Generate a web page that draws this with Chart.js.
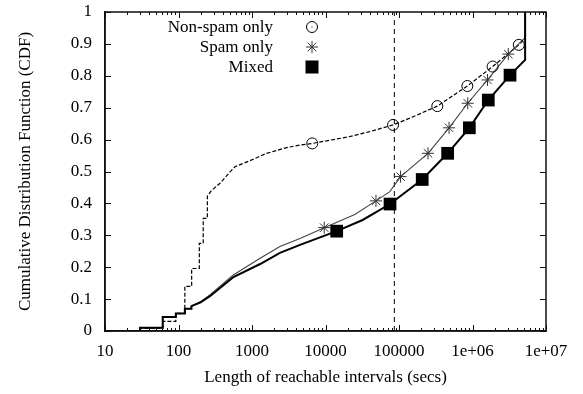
<!DOCTYPE html>
<html>
<head>
<meta charset="utf-8">
<script src="https://cdn.jsdelivr.net/npm/chart.js@4.4.0/dist/chart.umd.min.js"></script>
<style>
  html, body { margin: 0; padding: 0; background: #fff; }
  #wrap { width: 583px; height: 394px; }
</style>
</head>
<body>
<div id="wrap"><canvas id="cdfChart" width="583" height="394"></canvas></div>
<script>
// CDF of reachable interval lengths
const nonSpamX = [10, 30, 30, 61, 61, 92, 92, 122, 122, 151, 151, 192, 192, 217, 217, 247, 247, 283, 367, 503, 587, 940, 1285, 1585, 2966, 4500, 6600, 20000, 40000, 83000, 150000, 332000, 851000, 1880000, 4270000, 5200000, 5200000];
const nonSpamY = [0, 0, 0.008, 0.008, 0.03, 0.03, 0.055, 0.055, 0.14, 0.14, 0.196, 0.196, 0.275, 0.275, 0.353, 0.353, 0.423, 0.441, 0.463, 0.499, 0.515, 0.534, 0.548, 0.557, 0.575, 0.583, 0.588, 0.608, 0.625, 0.646, 0.67, 0.705, 0.768, 0.829, 0.897, 0.918, 1.0];

const spamX = [10, 30, 30, 61, 61, 92, 92, 122, 122, 150, 150, 200, 270, 550, 1290, 2400, 4500, 9600, 25000, 48600, 75000, 105000, 248000, 480000, 861000, 1600000, 3070000, 5200000, 5200000];
const spamY = [0, 0, 0.01, 0.01, 0.044, 0.044, 0.055, 0.055, 0.07, 0.07, 0.078, 0.092, 0.114, 0.175, 0.228, 0.265, 0.29, 0.324, 0.365, 0.408, 0.437, 0.484, 0.557, 0.637, 0.714, 0.787, 0.868, 0.92, 1.0];

const mixedX = [10, 30, 30, 61, 61, 92, 92, 122, 122, 150, 150, 200, 270, 550, 1290, 2400, 4500, 14200, 32000, 75500, 207000, 459000, 906000, 1640000, 3240000, 5200000, 5200000];
const mixedY = [0, 0, 0.01, 0.01, 0.044, 0.044, 0.055, 0.055, 0.07, 0.07, 0.078, 0.09, 0.11, 0.168, 0.21, 0.245, 0.27, 0.313, 0.348, 0.398, 0.475, 0.557, 0.637, 0.724, 0.802, 0.85, 1.0];

// sample points that carry the markers
const nonSpamMarkX = [6600, 83000, 332000, 851000, 1880000, 4270000];
const nonSpamMarkY = [0.588, 0.646, 0.705, 0.768, 0.829, 0.897];
const spamMarkX = [9600, 48600, 105000, 248000, 480000, 861000, 1600000, 3070000];
const spamMarkY = [0.324, 0.408, 0.484, 0.557, 0.637, 0.714, 0.787, 0.868];
const mixedMarkX = [14200, 75500, 207000, 459000, 906000, 1640000, 3240000];
const mixedMarkY = [0.313, 0.398, 0.475, 0.557, 0.637, 0.724, 0.802];

const dayMark = 86400; // one day, dashed reference line

const xTickValues = [10, 100, 1000, 10000, 100000, 1000000, 10000000];
const xTickLabels = ['10', '100', '1000', '10000', '100000', '1e+06', '1e+07'];
const yTickValues = [0, 0.1, 0.2, 0.3, 0.4, 0.5, 0.6, 0.7, 0.8, 0.9, 1];
const yTickLabels = ['0', '0.1', '0.2', '0.3', '0.4', '0.5', '0.6', '0.7', '0.8', '0.9', '1'];

const seriesNames = ['Non-spam only', 'Spam only', 'Mixed'];

const FONT = "'Liberation Serif', 'Times New Roman', serif";
Chart.defaults.color = '#000';
Chart.defaults.font.family = FONT;
Chart.defaults.font.size = 17;

const toPts = (xs, ys) => xs.map((v, i) => ({ x: v, y: ys[i] }));

// gnuplot-like frame with inward ticks on all four sides, plus the key
const frameAndKey = {
    id: 'frameAndKey',
    afterDraw(chart) {
        const c = chart.ctx;
        const a = chart.chartArea;
        const xs = chart.scales.x, ys = chart.scales.y;
        const L = a.left, T = a.top, R = a.right, B = a.bottom;
        c.save();
        c.setLineDash([]);
        c.strokeStyle = '#111';
        c.lineWidth = 1.5;
        c.beginPath();
        c.moveTo(L, T); c.lineTo(R, T); c.lineTo(R, B); c.lineTo(L, B); c.closePath();
        c.stroke();
        c.lineWidth = 1;
        c.beginPath();
        // x ticks, major and minor, bottom and top
        for (let k = 1; k <= 7; k++) {
            for (let m = 1; m <= 9; m++) {
                const v = m * Math.pow(10, k);
                if (v > 1e7) break;
                const px = Math.round(xs.getPixelForValue(v)) + 0.5;
                const len = m === 1 ? 6 : 3;
                c.moveTo(px, B); c.lineTo(px, B - len);
                c.moveTo(px, T); c.lineTo(px, T + len);
            }
        }
        // y ticks, left and right
        yTickValues.forEach(v => {
            const py = Math.round(ys.getPixelForValue(v)) + 0.5;
            c.moveTo(L, py); c.lineTo(L + 6, py);
            c.moveTo(R, py); c.lineTo(R - 6, py);
        });
        c.stroke();

        // key: right-aligned text, then the marker
        const textRight = 273, markX = 312;
        const rows = [27, 47, 67];
        c.fillStyle = '#000';
        c.font = '17px ' + FONT;
        c.textAlign = 'right';
        c.textBaseline = 'middle';
        seriesNames.forEach((name, i) => c.fillText(name, textRight, rows[i] + 1));
        c.strokeStyle = '#000';
        c.beginPath();
        c.arc(markX, rows[0], 5.5, 0, Math.PI * 2);
        c.stroke();
        c.fillRect(markX - 0.5, rows[0] - 0.5, 1, 1);
        c.strokeStyle = '#333';
        c.beginPath();
        for (let i = 0; i < 4; i++) {
            const ang = i * Math.PI / 4;
            c.moveTo(markX - 6 * Math.cos(ang), rows[1] - 6 * Math.sin(ang));
            c.lineTo(markX + 6 * Math.cos(ang), rows[1] + 6 * Math.sin(ang));
        }
        c.stroke();
        c.fillRect(markX - 6.5, rows[2] - 6.5, 13, 13);
        c.restore();
    }
};

const ctx = document.getElementById('cdfChart').getContext('2d');

new Chart(ctx, {
    type: 'scatter',
    data: {
        datasets: [
            {
                label: 'day',
                data: [{ x: dayMark, y: 0 }, { x: dayMark, y: 1 }],
                showLine: true,
                borderColor: '#000',
                borderWidth: 1,
                borderDash: [5, 4],
                pointRadius: 0,
                order: 9
            },
            {
                label: seriesNames[0],
                data: toPts(nonSpamX, nonSpamY),
                showLine: true,
                borderColor: '#000',
                borderWidth: 1.2,
                borderDash: [4, 2],
                pointRadius: 0,
                tension: 0,
                order: 8
            },
            {
                label: seriesNames[1],
                data: toPts(spamX, spamY),
                showLine: true,
                borderColor: '#444',
                borderWidth: 1.1,
                pointRadius: 0,
                tension: 0,
                order: 7
            },
            {
                label: seriesNames[2],
                data: toPts(mixedX, mixedY),
                showLine: true,
                borderColor: '#000',
                borderWidth: 2,
                pointRadius: 0,
                tension: 0,
                order: 6
            },
            {
                label: 'nonSpamMarks',
                data: toPts(nonSpamMarkX, nonSpamMarkY),
                pointStyle: 'circle',
                pointRadius: 5.5,
                pointBorderWidth: 1,
                pointBorderColor: '#000',
                pointBackgroundColor: 'rgba(0,0,0,0)',
                order: 3
            },
            {
                label: 'spamMarks',
                data: toPts(spamMarkX, spamMarkY),
                pointStyle: 'star',
                pointRadius: 6,
                pointBorderWidth: 1,
                pointBorderColor: '#333',
                pointBackgroundColor: '#333',
                order: 2
            },
            {
                label: 'mixedMarks',
                data: toPts(mixedMarkX, mixedMarkY),
                pointStyle: 'rect',
                pointRadius: 9,
                pointBorderWidth: 0,
                pointBackgroundColor: '#000',
                order: 1
            }
        ]
    },
    options: {
        responsive: false,
        animation: false,
        layout: { padding: { top: 12, right: 37, left: 0, bottom: 0 } },
        plugins: {
            legend: { display: false },
            tooltip: { enabled: false }
        },
        scales: {
            x: {
                type: 'logarithmic',
                min: 10,
                max: 1e7,
                grid: { display: false, drawTicks: false },
                border: { display: true, color: '#111', width: 1.5 },
                afterBuildTicks: s => { s.ticks = xTickValues.map(v => ({ value: v })); },
                afterFit: s => { s.height = 63; s.paddingLeft = 0; s.paddingRight = 0; },
                ticks: {
                    autoSkip: false,
                    maxRotation: 0,
                    padding: 10,
                    callback: v => xTickLabels[xTickValues.indexOf(v)]
                },
                title: {
                    display: true,
                    text: 'Length of reachable intervals (secs)',
                    padding: { top: 0, bottom: 6 }
                }
            },
            y: {
                min: 0,
                max: 1,
                grid: { display: false, drawTicks: false },
                border: { display: true, color: '#111', width: 1.5 },
                afterBuildTicks: s => { s.ticks = yTickValues.map(v => ({ value: v })); },
                afterFit: s => { s.width = 105; s.paddingTop = 0; s.paddingBottom = 0; },
                ticks: {
                    padding: 13,
                    callback: (v, i) => yTickLabels[i]
                },
                title: {
                    display: true,
                    text: 'Cumulative Distribution Function (CDF)',
                    padding: { top: 15, bottom: 0 }
                }
            }
        }
    },
    plugins: [frameAndKey]
});
</script>
</body>
</html>
